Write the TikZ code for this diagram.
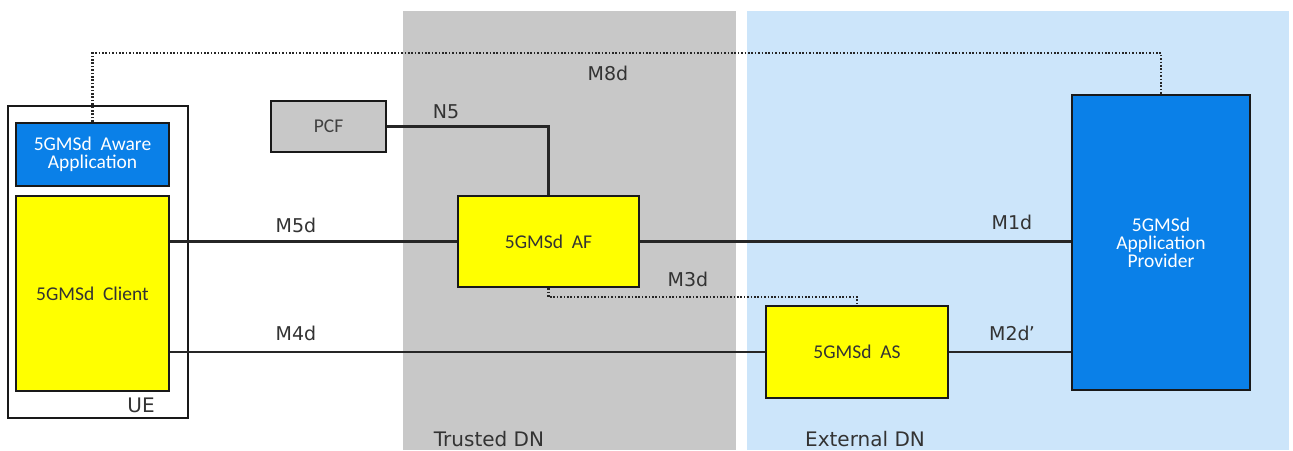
\documentclass[tikz,border=0pt]{standalone}
\usepackage{fontspec}
\setmainfont{DejaVu Sans}
\newfontfamily\boxfont{Carlito}
\begin{document}
\begin{tikzpicture}[x=1pt,y=-1pt,
  box/.style={draw=black!90,line width=2.6pt,inner sep=0pt,align=center,font=\boxfont\fontsize{19.5}{21}\selectfont},
  ybox/.style={box,fill=yellowbox,text=black!80},
  bbox/.style={box,fill=bluebox,text=white},
  gbox/.style={box,fill=pcfgray,text=black!75},
  link/.style={draw=black!85,line width=2.1pt},
  dotlink/.style={draw=black!85,line width=2.2pt,dash pattern=on 1.6pt off 1.8pt},
  lbl/.style={text=black!80,font=\fontsize{19}{21}\selectfont,inner sep=0pt},
  rlbl/.style={text=black!80,font=\fontsize{20}{22}\selectfont,inner sep=0pt}]
\definecolor{yellowbox}{RGB}{255,255,0}
\definecolor{bluebox}{RGB}{10,128,232}
\definecolor{pcfgray}{RGB}{200,200,200}
\definecolor{trustgray}{RGB}{200,200,200}
\definecolor{extblue}{RGB}{204,229,250}
\useasboundingbox (0,0) rectangle (1293,450);
\fill[white] (0,0) rectangle (1293,450);
\fill[trustgray] (403,11) rectangle (736,450);
\fill[extblue] (747,11) rectangle (1289,450);
% nodes
\node[draw=black!90,line width=2.6pt,minimum width=180pt,minimum height=312pt] (ue) at (98,262) {};
\node[bbox,minimum width=153pt,minimum height=63pt] (app) at (92.5,154.5) {5GMSd\ \ Aware\\[-3pt]Application};
\node[ybox,minimum width=153pt,minimum height=195pt] (client) at (92.5,293.5) {5GMSd\ \ Client};
\node[lbl,font=\fontsize{20}{22}\selectfont] (uelbl) at (141,405) {UE};
\node[gbox,minimum width=115pt,minimum height=51pt] (pcf) at (328.5,126.5) {PCF};
\node[ybox,minimum width=181pt,minimum height=91pt] (af) at (548.5,241.5) {5GMSd\ \ AF};
\node[ybox,minimum width=182pt,minimum height=92pt] (as) at (857,352) {5GMSd\ \ AS};
\node[bbox,minimum width=178pt,minimum height=295pt] (ap) at (1161,242.5) {5GMSd\\[-3pt]Application\\[-3pt]Provider};
% connectors
\draw[link] (pcf.east) -- (af.north |- pcf.east) -- (af.north);
\draw[link] (client.east |- af.west) -- (af.west);
\draw[link] (af.east) -- (ap.west |- af.east);
\draw[link] (client.east |- as.west) -- (as.west);
\draw[link] (as.east) -- (ap.west |- as.east);
\coordinate (m8l) at (92.5,53);
\coordinate (m8r) at (1161,53);
\draw[dotlink] (app.north) -- (m8l) -- (m8r) -- (ap.north);
\coordinate (m3l) at (548.5,297);
\coordinate (m3r) at (857,297);
\draw[dotlink] (af.south) -- (m3l) -- (m3r) -- (as.north);
% labels
\node[lbl] (l5) at (296,225) {M5d};
\node[lbl] (l4) at (296,333) {M4d};
\node[lbl] (l8) at (608,73) {M8d};
\node[lbl] (ln5) at (446,112) {N5};
\node[lbl] (l3) at (688,279) {M3d};
\node[lbl] (l1) at (1012,222) {M1d};
\node[lbl] (l2) at (1012,333) {M2d\kern-1pt'};
\node[rlbl] (tdn) at (489,439) {Trusted DN};
\node[rlbl] (edn) at (865,439) {External DN};
\end{tikzpicture}
\end{document}
